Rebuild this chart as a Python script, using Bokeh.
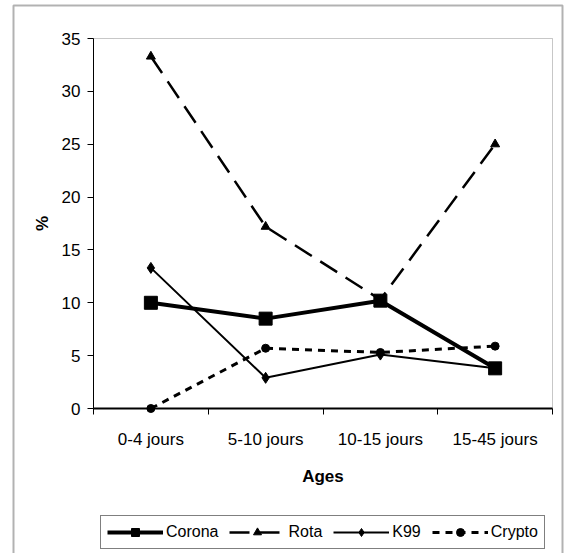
from bokeh.plotting import figure
from bokeh.models import (FixedTicker, Legend, LegendItem, LinearAxis,
                          BoxAnnotation, Range1d)
from bokeh.embed import file_html
from bokeh.resources import INLINE

# Age groups and prevalence (%) per pathogen
ages = ["0-4 jours", "5-10 jours", "10-15 jours", "15-45 jours"]
corona = [10.0, 8.5, 10.2, 3.8]
rota = [33.3, 17.2, 10.3, 25.0]
k99 = [13.3, 2.9, 5.1, 3.8]
crypto = [0.0, 5.7, 5.3, 5.9]
y_ticks = [0, 5, 10, 15, 20, 25, 30, 35]
y_max = 35

FONT = "Liberation Sans"
W, H = 564, 553

# pixel box of the plot area inside the canvas
PL, PR, PT, PB = 93, 552, 38, 408
n = len(ages)
sx = (PR - PL) / n          # px per category
sy = (PB - PT) / y_max      # px per percent


def px_to_x(px):
    return (px - PL) / sx


def py_to_y(py):
    return (PB - py) / sy


# the frame fills the whole canvas; axes sit at fixed data locations
p = figure(width=W, height=H, output_backend="svg", toolbar_location=None,
           x_axis_type=None, y_axis_type=None,
           x_range=Range1d(px_to_x(0), px_to_x(W)),
           y_range=Range1d(py_to_y(H), py_to_y(0)))
p.min_border = 0
p.min_border_left = p.min_border_right = 0
p.min_border_top = p.min_border_bottom = 0
p.background_fill_color = "white"
p.border_fill_color = "white"
p.outline_line_color = None
p.xgrid.visible = False
p.ygrid.visible = False

# category i is centred at i + 0.5
xs = [i + 0.5 for i in range(n)]

# plot-area box
p.add_layout(BoxAnnotation(left=0, right=n, bottom=0, top=y_max,
                           fill_alpha=0, line_color="#444444", line_width=1,
                           level="underlay"))
# chart-area border
p.add_layout(BoxAnnotation(left=px_to_x(13), right=px_to_x(562),
                           top=py_to_y(5), bottom=py_to_y(H + 20),
                           fill_alpha=0, line_color="black", line_width=2,
                           level="overlay"))

# x axis: labels at category centres, tick marks on category boundaries
xa = LinearAxis(fixed_location=0, bounds=(0, n))
xa.ticker = FixedTicker(ticks=xs, minor_ticks=list(range(n + 1)))
xa.major_label_overrides = {x: lab for x, lab in zip(xs, ages)}
xa.major_tick_in = 0
xa.major_tick_out = 0
xa.minor_tick_in = 0
xa.minor_tick_out = 6
xa.minor_tick_line_color = "black"
xa.axis_line_color = "black"
xa.axis_line_width = 2
xa.major_label_text_font = FONT
xa.major_label_text_font_size = "17px"
xa.major_label_text_color = "black"
xa.major_label_standoff = 15
xa.axis_label = "Ages"
xa.axis_label_text_font = FONT
xa.axis_label_text_font_size = "17px"
xa.axis_label_text_font_style = "bold"
xa.axis_label_text_color = "black"
xa.axis_label_standoff = 15
p.add_layout(xa, "below")

ya = LinearAxis(fixed_location=0, bounds=(0, y_max))
ya.ticker = FixedTicker(ticks=y_ticks, minor_ticks=[])
ya.major_tick_in = 0
ya.major_tick_out = 6
ya.major_tick_line_color = "black"
ya.axis_line_color = "black"
ya.axis_line_width = 1
ya.major_label_text_font = FONT
ya.major_label_text_font_size = "17px"
ya.major_label_text_color = "black"
ya.major_label_standoff = 7
ya.axis_label = "%"
ya.axis_label_text_font = FONT
ya.axis_label_text_font_size = "17px"
ya.axis_label_text_font_style = "bold"
ya.axis_label_text_color = "black"
ya.axis_label_standoff = 7
p.add_layout(ya, "left")

# series
r_rota_l = p.line(xs, rota, line_color="black", line_width=2.5, line_dash="20 10")
r_rota_m = p.scatter(xs, rota, marker="triangle", size=9, color="black")

r_crypto_l = p.line(xs, crypto, line_color="black", line_width=3, line_dash="7 6")
r_crypto_m = p.scatter(xs, crypto, marker="circle", size=8, color="black")

r_k99_l = p.line(xs, k99, line_color="black", line_width=2)
r_k99_m = p.scatter(xs, k99, marker="diamond", size=11, color="black")

r_corona_l = p.line(xs, corona, line_color="black", line_width=4)
r_corona_m = p.scatter(xs, corona, marker="square", size=13, color="black")

legend = Legend(items=[
    LegendItem(label="Corona", renderers=[r_corona_l, r_corona_m]),
    LegendItem(label="Rota", renderers=[r_rota_l, r_rota_m]),
    LegendItem(label="K99", renderers=[r_k99_l, r_k99_m]),
    LegendItem(label="Crypto", renderers=[r_crypto_l, r_crypto_m]),
], orientation="horizontal", location=(100, H - 549))
legend.glyph_width = 56
legend.glyph_height = 20
legend.label_standoff = 3
legend.spacing = 11
legend.padding = 6
legend.margin = 0
legend.label_text_font = FONT
legend.label_text_font_size = "16px"
legend.label_text_color = "black"
legend.border_line_color = "black"
legend.border_line_width = 1
legend.background_fill_color = "white"
legend.background_fill_alpha = 1
p.add_layout(legend, "center")

open("out.html", "w").write(file_html(p, INLINE))
